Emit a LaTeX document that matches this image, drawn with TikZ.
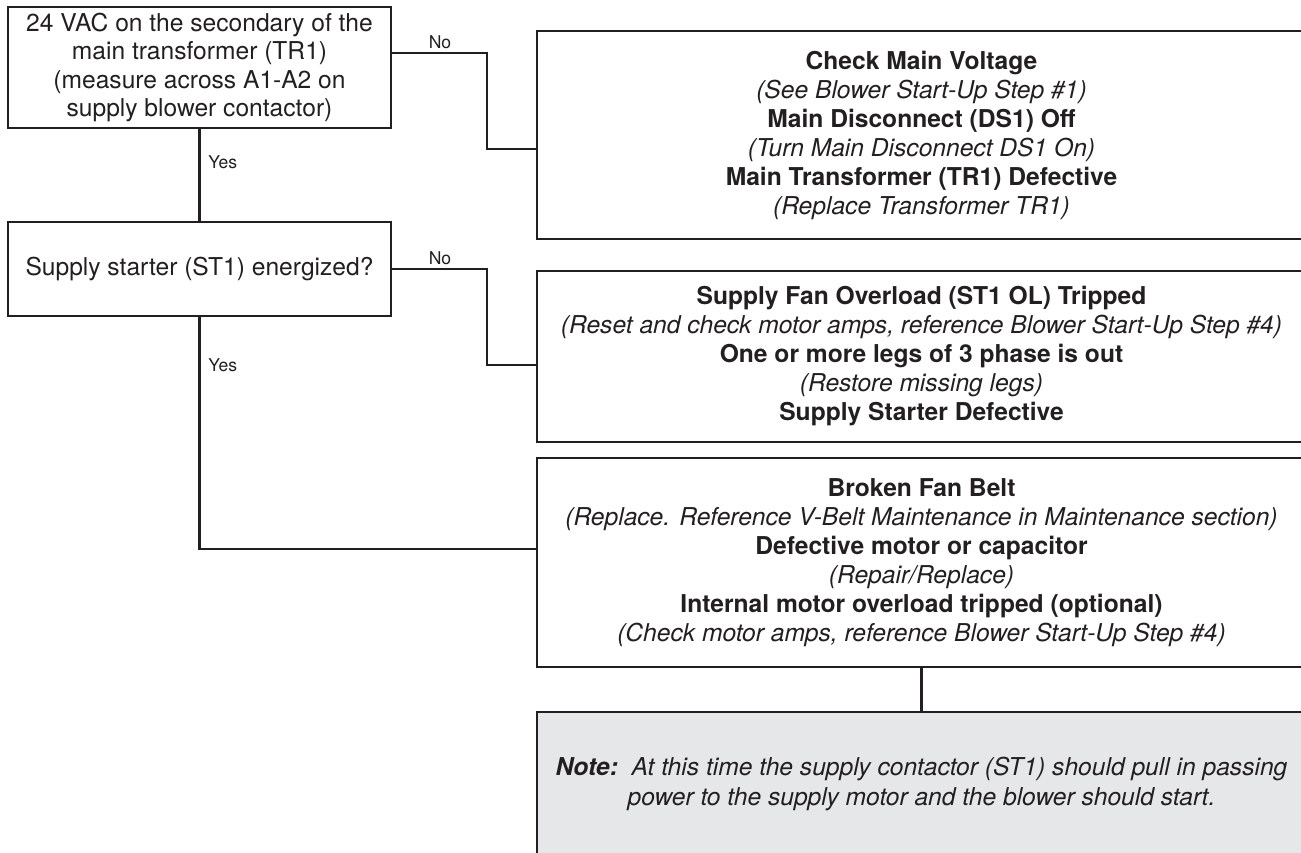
\documentclass[tikz,border=0pt]{standalone}
\usepackage{fontspec}
\setmainfont{TeX Gyre Heros}
\definecolor{ink}{HTML}{231F20}
\definecolor{notegray}{HTML}{E6E7E8}

\begin{document}
\begin{tikzpicture}[x=0.2mm, y=0.2mm,
  box/.style={draw=ink, line width=1.3pt, text=ink, align=center, inner sep=0pt,
    font=\fontsize{14}{16}\selectfont},
  fixbox/.style={box, minimum width=153.8mm, font=\fontsize{14}{16.5}\selectfont},
  lbl/.style={text=ink, inner sep=0pt, font=\fontsize{10}{12}\selectfont},
  link/.style={draw=ink, line width=1.3pt}]

\useasboundingbox (0,0) rectangle (1301,852);
\clip (0,0) rectangle (1301,852);

%------------------ QUESTIONS (left column) ------------------%
\node[box, minimum width=76.6mm, minimum height=24.2mm] (q1) at (199.5,784.5)
  {24 VAC on the secondary of the\\ main transformer (TR1)\\
   (measure across A1-A2 on\\ supply blower contactor)};

\node[box, minimum width=76.6mm, minimum height=18.8mm] (q2) at (199.5,583)
  {Supply starter (ST1) energized?};

%------------------ FIXES (right column) ------------------%
\node[fixbox, minimum height=41.6mm] (fa) at (921.5,717)
  {\textbf{Check Main Voltage}\\
   \textit{(See Blower Start-Up Step \#1)}\\
   \textbf{Main Disconnect (DS1) Off}\\
   \textit{(Turn Main Disconnect DS1 On)}\\
   \textbf{Main Transformer (TR1) Defective}\\
   \textit{(Replace Transformer TR1)}};

\node[fixbox, minimum height=34.2mm] (fb) at (921.5,495.5)
  {\textbf{Supply Fan Overload (ST1 OL) Tripped}\\
   \textit{(Reset and check motor amps, reference Blower Start-Up Step \#4)}\\
   \textbf{One or more legs of 3 phase is out}\\
   \textit{(Restore missing legs)}\\
   \textbf{Supply Starter Defective}};

\node[fixbox, minimum height=41.8mm] (fc) at (921.5,289.5)
  {\textbf{Broken Fan Belt}\\
   \textit{(Replace. Reference V-Belt Maintenance in Maintenance section)}\\
   \textbf{Defective motor or capacitor}\\
   \textit{(Repair/Replace)}\\
   \textbf{Internal motor overload tripped (optional)}\\
   \textit{(Check motor amps, reference Blower Start-Up Step \#4)}};

% Note (grey)
\node[fixbox, fill=notegray, minimum height=28.8mm, font=\fontsize{14}{17}\selectfont\itshape]
  (note) at (921.5,68)
  {\textbf{Note:}\ \ At this time the supply contactor (ST1) should pull in passing\\
   power to the supply motor and the blower should start.};

%------------------ CONNECTORS ------------------%
\coordinate (k1a) at (487,799);
\coordinate (k1b) at (487,703);
\coordinate (k2a) at (487,583);
\coordinate (k2b) at (487,487);
\coordinate (k3)  at (199.5,303);

\draw[link] (q1.east |- k1a) -- (k1a) -- (k1b) -- (fa.west |- k1b);
\draw[link] (q2.east) -- (k2a) -- (k2b) -- (fb.west |- k2b);
\draw[link] (q1.south) -- (q2.north);
\draw[link] (q2.south) -- (k3) -- (fc.west |- k3);
\draw[link] (fc.south) -- (note.north);

\node[lbl] (no1) at (440,810) {No};
\node[lbl] (no2) at (440,594) {No};
\node[lbl, anchor=west] (yes1) at (208,690) {Yes};
\node[lbl, anchor=west] (yes2) at (208,487) {Yes};

\end{tikzpicture}
\end{document}
